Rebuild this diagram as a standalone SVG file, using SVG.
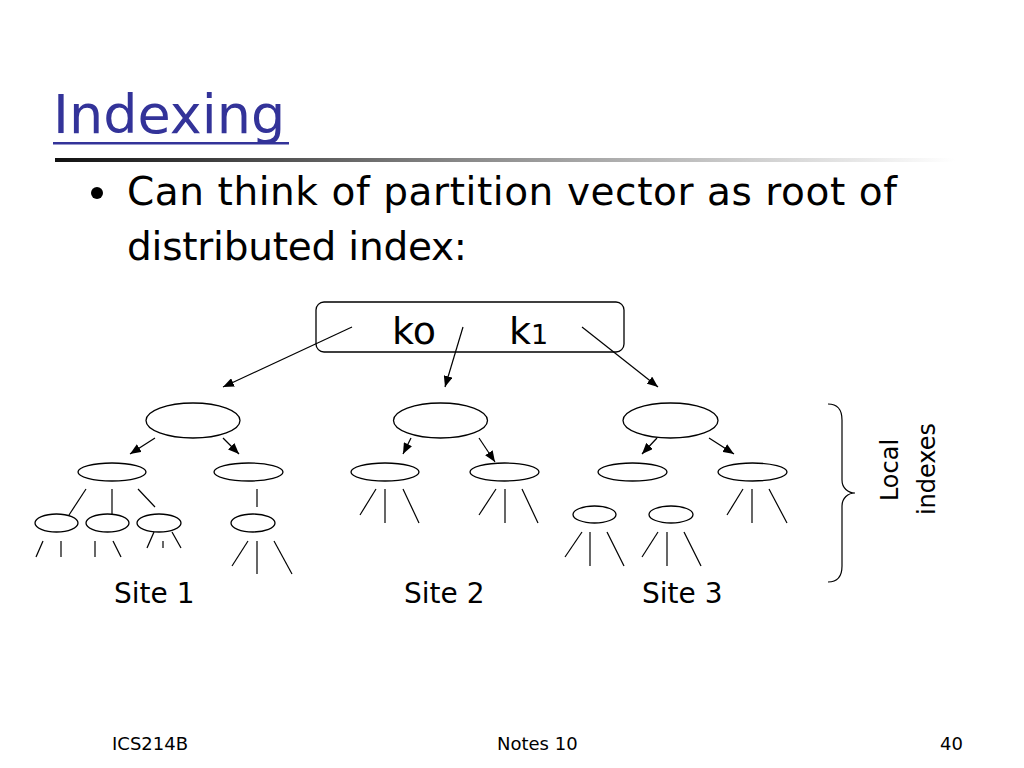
<svg xmlns="http://www.w3.org/2000/svg" width="1024" height="768" viewBox="0 0 1024 768">
<defs>
<linearGradient id="rule" x1="0" y1="0" x2="1" y2="0">
<stop offset="0" stop-color="#111"/>
<stop offset="0.45" stop-color="#888"/>
<stop offset="1" stop-color="#fff"/>
</linearGradient>
<marker id="arr" markerUnits="userSpaceOnUse" markerWidth="11" markerHeight="9" refX="11" refY="4.5" orient="auto">
<path d="M0,0 L11,4.5 L0,9 z" fill="#000"/>
</marker>
<style>
text{font-family:"DejaVu Sans",Verdana,sans-serif;fill:#000}
.n{fill:#fff;stroke:#000;stroke-width:1.3}
.e line{stroke:#000;stroke-width:1.2}
.a{stroke:#000;stroke-width:1.5;marker-end:url(#arr)}
.site{font-size:28px}
.ft{font-size:18px}
</style>
</defs>
<rect width="1024" height="768" fill="#fff"/>
<g id="title">
<text x="53" y="133" font-size="54" style="fill:#333399">Indexing</text>
<rect x="53" y="142" width="236" height="2.5" fill="#333399"/>
<rect x="55" y="158" width="900" height="4" fill="url(#rule)"/>
</g>
<g id="bullet">
<circle cx="97" cy="193" r="6"/>
<text x="127" y="205" font-size="39" textLength="770" lengthAdjust="spacing">Can think of partition vector as root of</text>
<text x="127" y="260" font-size="39" textLength="340" lengthAdjust="spacing">distributed index:</text>
</g>
<g id="partition-vector">
<rect x="316" y="302" width="308" height="50" rx="8" fill="none" stroke="#000" stroke-width="1.3"/>
<text x="392" y="344" font-size="38">ko</text>
<text x="509" y="344" font-size="38">k<tspan font-size="27">1</tspan></text>
</g>
<g id="site1">
<ellipse class="n" cx="193" cy="420.5" rx="47" ry="17.5"/>
<ellipse class="n" cx="112" cy="472" rx="34" ry="9"/>
<ellipse class="n" cx="248.5" cy="472" rx="34.5" ry="9"/>
<ellipse class="n" cx="56.5" cy="523" rx="21.5" ry="9"/>
<ellipse class="n" cx="107.5" cy="523" rx="21.5" ry="9"/>
<ellipse class="n" cx="159" cy="523" rx="22" ry="9"/>
<ellipse class="n" cx="253" cy="523" rx="22" ry="9"/>
<text class="site" x="114" y="603">Site 1</text>
</g>
<g id="site2">
<ellipse class="n" cx="440.5" cy="420.5" rx="47" ry="17.5"/>
<ellipse class="n" cx="385" cy="472" rx="34" ry="9"/>
<ellipse class="n" cx="504.5" cy="472" rx="34.5" ry="9"/>
<text class="site" x="404" y="603">Site 2</text>
</g>
<g id="site3">
<ellipse class="n" cx="670.5" cy="420.5" rx="47.5" ry="17.5"/>
<ellipse class="n" cx="632.5" cy="472" rx="34.5" ry="9"/>
<ellipse class="n" cx="752.5" cy="472" rx="34.5" ry="9"/>
<ellipse class="n" cx="594.5" cy="514.5" rx="21.5" ry="8.5"/>
<ellipse class="n" cx="671" cy="514.5" rx="22" ry="8.5"/>
<text class="site" x="642" y="603">Site 3</text>
</g>
<g id="local-indexes">
<path d="M828,404 C838,404 842,410 842,420 L842,480 C842,488 848,493 855,493 C848,493 842,498 842,506 L842,566 C842,576 838,582 828,582" fill="none" stroke="#000" stroke-width="1.2"/>
<text transform="translate(898,470) rotate(-90)" font-size="24" text-anchor="middle">Local</text>
<text transform="translate(935,469) rotate(-90)" font-size="24" text-anchor="middle">indexes</text>
</g>
<g id="connectors" class="e">
<line class="a" x1="352" y1="327" x2="223" y2="387"/>
<line class="a" x1="463" y1="327" x2="445" y2="387"/>
<line class="a" x1="582" y1="327" x2="658" y2="387"/>
<line class="a" x1="155" y1="438" x2="130" y2="454"/>
<line class="a" x1="223" y1="438" x2="239" y2="454"/>
<line class="a" x1="411" y1="438" x2="403" y2="454"/>
<line class="a" x1="479" y1="438" x2="495" y2="462"/>
<line class="a" x1="657" y1="438" x2="642" y2="454"/>
<line class="a" x1="709" y1="438" x2="734" y2="454"/>
<line x1="86" y1="489" x2="69" y2="515"/>
<line x1="112" y1="489" x2="112" y2="515"/>
<line x1="138" y1="489" x2="155" y2="507"/>
<line x1="257" y1="489" x2="257" y2="507"/>
<line x1="43" y1="541" x2="36" y2="557"/>
<line x1="61" y1="541" x2="61" y2="557"/>
<line x1="95" y1="541" x2="95" y2="557"/>
<line x1="113" y1="541" x2="121" y2="557"/>
<line x1="154" y1="532" x2="147" y2="548"/>
<line x1="163" y1="541" x2="163" y2="548"/>
<line x1="172" y1="532" x2="181" y2="548"/>
<line x1="248" y1="541" x2="232" y2="566"/>
<line x1="257" y1="541" x2="257" y2="574"/>
<line x1="274" y1="541" x2="292" y2="574"/>
<line x1="376" y1="489" x2="360" y2="515"/>
<line x1="385" y1="489" x2="385" y2="523"/>
<line x1="403" y1="489" x2="419" y2="523"/>
<line x1="496" y1="489" x2="479" y2="515"/>
<line x1="505" y1="489" x2="505" y2="523"/>
<line x1="522" y1="489" x2="538" y2="523"/>
<line x1="743" y1="489" x2="727" y2="515"/>
<line x1="752" y1="489" x2="752" y2="523"/>
<line x1="769" y1="489" x2="787" y2="523"/>
<line x1="582" y1="532" x2="565" y2="557"/>
<line x1="590" y1="532" x2="590" y2="566"/>
<line x1="607" y1="532" x2="624" y2="566"/>
<line x1="658" y1="532" x2="642" y2="557"/>
<line x1="667" y1="532" x2="667" y2="566"/>
<line x1="684" y1="532" x2="701" y2="566"/>
</g>
<g id="footer">
<text class="ft" x="112" y="750">ICS214B</text>
<text class="ft" x="497" y="750">Notes 10</text>
<text class="ft" x="940" y="750">40</text>
</g>
</svg>
